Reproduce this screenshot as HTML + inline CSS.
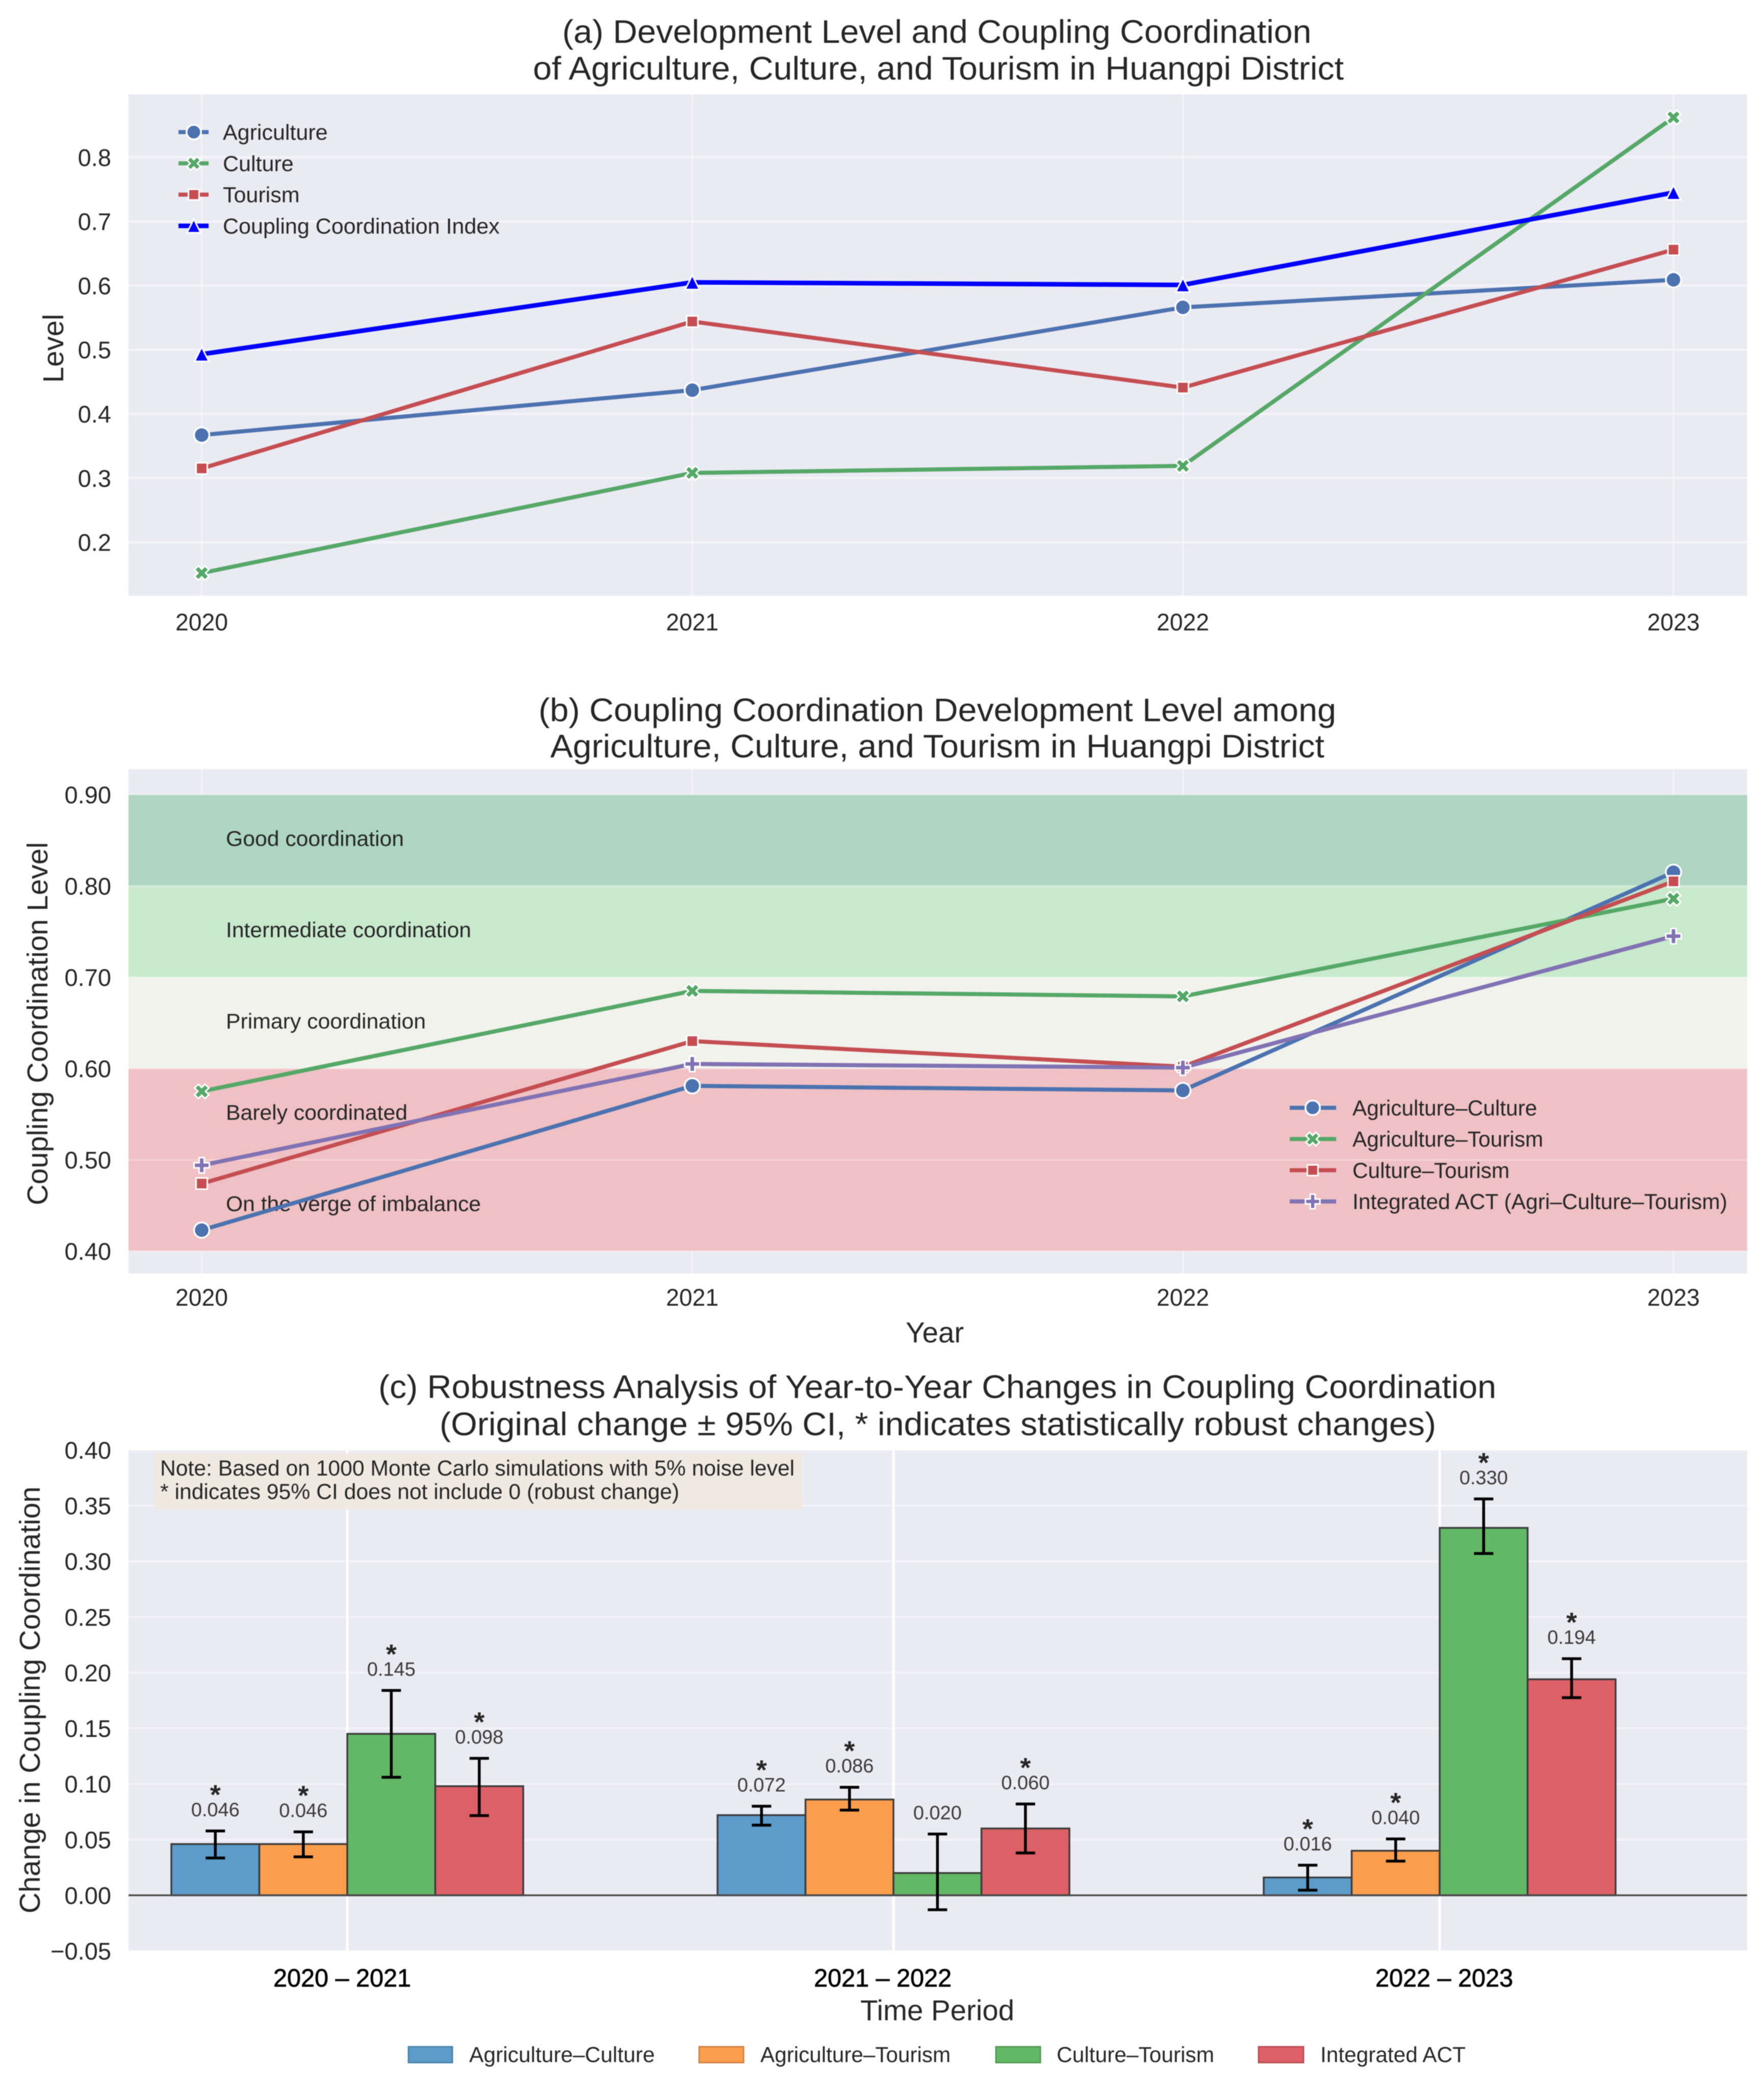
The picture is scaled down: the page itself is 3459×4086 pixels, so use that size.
<!DOCTYPE html>
<html lang="en">
<head>
<meta charset="utf-8">
<title>Coupling coordination of agriculture, culture and tourism in Huangpi District</title>
<style>
html,body{margin:0;padding:0;background:#fff}
svg{display:block;filter:blur(0.8px)}
text{font-family:"Liberation Sans",Arial,sans-serif;fill:#262626}
.title{font-size:64px;text-anchor:middle}
.axis-title{font-size:57px;text-anchor:middle}
.legend{font-size:43px}
.tick{font-size:47px}
</style>
</head>
<body>
<svg id="figure" xmlns="http://www.w3.org/2000/svg" width="3459" height="4086" viewBox="0 0 3459 4086">
  <rect x="0" y="0" width="3459" height="4086" fill="#ffffff"/>

  <g id="panel-a"></g>
  <g id="panel-b"></g>
  <g id="panel-c"></g>

  <g>
    <text class="title" x="1837" y="84" textLength="1469" lengthAdjust="spacingAndGlyphs">(a) Development Level and Coupling Coordination</text>
    <text class="title" x="1840" y="156" textLength="1590" lengthAdjust="spacingAndGlyphs">of Agriculture, Culture, and Tourism in Huangpi District</text>
  </g>
  <text class="axis-title" transform="translate(124,683) rotate(-90)" textLength="135" lengthAdjust="spacingAndGlyphs">Level</text>

  <g>
    <text class="title" x="1838" y="1414" textLength="1564" lengthAdjust="spacingAndGlyphs">(b) Coupling Coordination Development Level among</text>
    <text class="title" x="1838" y="1485" textLength="1518" lengthAdjust="spacingAndGlyphs">Agriculture, Culture, and Tourism in Huangpi District</text>
  </g>
  <text class="axis-title" transform="translate(93,2007) rotate(-90)" textLength="712" lengthAdjust="spacingAndGlyphs">Coupling Coordination Level</text>
  <text class="axis-title" x="1833" y="2632" textLength="114" lengthAdjust="spacingAndGlyphs">Year</text>

  <g>
    <text class="title" x="1838" y="2741" textLength="2192" lengthAdjust="spacingAndGlyphs">(c) Robustness Analysis of Year-to-Year Changes in Coupling Coordination</text>
    <text class="title" x="1839" y="2814" textLength="1954" lengthAdjust="spacingAndGlyphs">(Original change ± 95% CI, * indicates statistically robust changes)</text>
  </g>
  <text class="axis-title" transform="translate(78,3333) rotate(-90)" textLength="837" lengthAdjust="spacingAndGlyphs">Change in Coupling Coordination</text>
  <text class="axis-title" x="1838" y="3961" textLength="302" lengthAdjust="spacingAndGlyphs">Time Period</text>

  <g>
    <rect x="304" y="2849" width="1269" height="111" fill="#f0e8e0" opacity="0.92"/>
    <text x="314" y="2893" font-size="43" textLength="1244" lengthAdjust="spacingAndGlyphs">Note: Based on 1000 Monte Carlo simulations with 5% noise level</text>
    <text x="314" y="2939" font-size="43" textLength="1018" lengthAdjust="spacingAndGlyphs">* indicates 95% CI does not include 0 (robust change)</text>
  </g>

  <g>
    <g>
      <rect x="801" y="4013" width="86" height="31" fill="#5c9bca" stroke="#4d84ab" stroke-width="3"/>
      <text class="legend" x="920" y="4043" textLength="364" lengthAdjust="spacingAndGlyphs">Agriculture–Culture</text>
    </g>
    <g>
      <rect x="1371" y="4013" width="87" height="31" fill="#fa9e4e" stroke="#d08445" stroke-width="3"/>
      <text class="legend" x="1491" y="4043" textLength="373" lengthAdjust="spacingAndGlyphs">Agriculture–Tourism</text>
    </g>
    <g>
      <rect x="1953" y="4013" width="87" height="31" fill="#63b866" stroke="#539a56" stroke-width="3"/>
      <text class="legend" x="2072" y="4043" textLength="309" lengthAdjust="spacingAndGlyphs">Culture–Tourism</text>
    </g>
    <g>
      <rect x="2468" y="4013" width="88" height="31" fill="#dc6066" stroke="#b85055" stroke-width="3"/>
      <text class="legend" x="2589" y="4043" textLength="285" lengthAdjust="spacingAndGlyphs">Integrated ACT</text>
    </g>
  </g>
</svg>

<script>
/* ---------- panel (a) data ---------- */
const years = ['2020', '2021', '2022', '2023'];
const agricultureLevel = [0.367, 0.437, 0.566, 0.609];
const cultureLevel = [0.152, 0.308, 0.319, 0.862];
const tourismLevel = [0.315, 0.544, 0.441, 0.656];
const couplingIndex = [0.493, 0.605, 0.601, 0.745];
const panelATicks = [0.2, 0.3, 0.4, 0.5, 0.6, 0.7, 0.8];
const panelALegendLabels = ['Agriculture', 'Culture', 'Tourism', 'Coupling Coordination Index'];

/* ---------- panel (b) data ---------- */
const agricultureCulture = [0.423, 0.581, 0.576, 0.815];
const agricultureTourism = [0.575, 0.685, 0.679, 0.786];
const cultureTourism = [0.474, 0.630, 0.602, 0.805];
const integratedAct = [0.494, 0.605, 0.601, 0.745];
const panelBTicks = [0.40, 0.50, 0.60, 0.70, 0.80, 0.90];
const bandLow = [0.80, 0.70, 0.60, 0.40];
const bandHigh = [0.90, 0.80, 0.70, 0.60];
const levelNames = ['Good coordination', 'Intermediate coordination', 'Primary coordination', 'Barely coordinated', 'On the verge of imbalance'];
const levelMid = [0.85, 0.75, 0.65, 0.55, 0.45];
const panelBLegendLabels = ['Agriculture–Culture', 'Agriculture–Tourism', 'Culture–Tourism', 'Integrated ACT (Agri–Culture–Tourism)'];

/* ---------- panel (c) data ---------- */
const periods = ['2020 – 2021', '2021 – 2022', '2022 – 2023'];
const seriesNames = ['agriculture-culture', 'agriculture-tourism', 'culture-tourism', 'integrated-act'];
const changeAC = [0.046, 0.072, 0.016];
const changeAT = [0.046, 0.086, 0.040];
const changeCT = [0.145, 0.020, 0.330];
const changeInt = [0.098, 0.060, 0.194];
const ciLowAC = [0.0335, 0.063, 0.0046];
const ciHighAC = [0.0578, 0.080, 0.027];
const ciLowAT = [0.0345, 0.0765, 0.0307];
const ciHighAT = [0.057, 0.097, 0.0506];
const ciLowCT = [0.106, -0.013, 0.307];
const ciHighCT = [0.184, 0.055, 0.356];
const ciLowInt = [0.0716, 0.038, 0.1775];
const ciHighInt = [0.123, 0.082, 0.2125];
const panelCTicks = [-0.05, 0, 0.05, 0.10, 0.15, 0.20, 0.25, 0.30, 0.35, 0.40];

const NS = 'http://www.w3.org/2000/svg';
const PLOT_L = 252, PLOT_R = 3426;

function mk(parent, tag) {
  const n = document.createElementNS(NS, tag);
  parent.appendChild(n);
  return n;
}
function set(n, props) {
  for (const k in props) n.setAttribute(k, props[k]);
  return n;
}
/* axis functions */
const xYear = i => 395.5 + i * 962;
const yA = v => 308.3 + (0.8 - v) * 1258;
const yB = v => 2453 - (v - 0.4) * 1790;
const yC = v => 3716 - v * 2183;
const xGroup = i => 681 + i * 1071;
const BAR_W = 172.5;

function markerShape(parent, kind, color, cx, cy, scale) {
  const s = scale || 1;
  let m;
  if (kind === 'circle') {
    m = mk(parent, 'circle');
    set(m, {cx: cx, cy: cy, r: 15 * s, fill: color, stroke: '#fff', 'stroke-width': 3.5});
  } else if (kind === 'square') {
    m = mk(parent, 'rect');
    set(m, {x: cx - 11 * s, y: cy - 11 * s, width: 22 * s, height: 22 * s, fill: color, stroke: '#fff', 'stroke-width': 3});
  } else if (kind === 'triangle') {
    const r = 14 * s;
    m = mk(parent, 'polygon');
    set(m, {points: `${cx},${cy - r} ${cx + r},${cy + r} ${cx - r},${cy + r}`, fill: color, stroke: '#fff', 'stroke-width': 3});
  } else if (kind === 'x') {
    const a = 14 * s, b = 7.5 * s;
    m = mk(parent, 'polygon');
    const pts = [[-a, -a + b], [-a + b, -a], [0, -b], [a - b, -a], [a, -a + b], [b, 0], [a, a - b], [a - b, a], [0, b], [-a + b, a], [-a, a - b], [-b, 0]];
    set(m, {points: pts.map(p => (cx + p[0]) + ',' + (cy + p[1])).join(' '), fill: color, stroke: '#fff', 'stroke-width': 3});
  } else {
    const a = 15 * s, b = 5 * s;
    m = mk(parent, 'polygon');
    const pts = [[-b, -a], [b, -a], [b, -b], [a, -b], [a, b], [b, b], [b, a], [-b, a], [-b, b], [-a, b], [-a, -b], [-b, -b]];
    set(m, {points: pts.map(p => (cx + p[0]) + ',' + (cy + p[1])).join(' '), fill: color, stroke: '#fff', 'stroke-width': 3});
  }
  return m;
}

function drawSeries(parent, key, values, yFn, color, kind, width) {
  const line = mk(parent, 'polyline');
  
  
  set(line, {points: values.map((v, i) => xYear(i) + ',' + yFn(v)).join(' '), fill: 'none', stroke: color, 'stroke-width': width, 'stroke-linejoin': 'round'});
  values.forEach((v, i) => {
    const m = markerShape(parent, kind, color, xYear(i), yFn(v));
    
    
  });
}

function drawYearAxis(parent, top, bottom, baseline) {
  years.forEach((y, i) => {
    const g = mk(parent, 'line');
    
    
    set(g, {x1: xYear(i), x2: xYear(i), y1: top, y2: bottom, stroke: '#fff', 'stroke-width': 4, opacity: 0.45});
    const t = mk(parent, 'text');
    
    
    set(t, {x: xYear(i), y: baseline, 'text-anchor': 'middle', class: 'tick', textLength: 103, lengthAdjust: 'spacingAndGlyphs'});
    t.textContent = y;
  });
}

function drawYTicks(parent, ticks, yFn, digits, gridOpacity) {
  ticks.forEach(v => {
    const g = mk(parent, 'line');
    
    
    set(g, {x1: PLOT_L, x2: PLOT_R, y1: yFn(v), y2: yFn(v), stroke: '#fff', 'stroke-width': 4, opacity: gridOpacity});
    const t = mk(parent, 'text');
    
    
    set(t, {x: 218, y: yFn(v) + 17, 'text-anchor': 'end', class: 'tick'});
    const s = Math.abs(v).toFixed(digits);
    t.textContent = (v < 0 ? '−' : '') + s;
  });
}

/* ---------- panel (a) ---------- */
(function () {
  const p = document.getElementById('panel-a');
  const bg = mk(p, 'rect');
  
  
  set(bg, {x: PLOT_L, y: 185, width: PLOT_R - PLOT_L, height: 983, fill: '#eaeaf2'});
  drawYTicks(p, panelATicks, yA, 1, 0.5);
  drawYearAxis(p, 185, 1168, 1236);
  drawSeries(p, 'agriculture', agricultureLevel, yA, '#4c72b0', 'circle', 8);
  drawSeries(p, 'culture', cultureLevel, yA, '#55a868', 'x', 8);
  drawSeries(p, 'tourism', tourismLevel, yA, '#c44e52', 'square', 8);
  drawSeries(p, 'coupling-index', couplingIndex, yA, '#0000ff', 'triangle', 9);

  const colors = ['#4c72b0', '#55a868', '#c44e52', '#0000ff'];
  const kinds = ['circle', 'x', 'square', 'triangle'];
  panelALegendLabels.forEach((name, i) => {
    const ly = 259 + i * 61.3;
    const h = mk(p, 'line');
    
    
    set(h, {x1: 350, x2: 409, y1: ly, y2: ly, stroke: colors[i], 'stroke-width': i === 3 ? 9 : 8});
    const m = markerShape(p, kinds[i], colors[i], 380, ly, 0.95);
    
    
    const t = mk(p, 'text');
    
    
    set(t, {x: 437, y: ly + 15, class: 'legend'});
    t.textContent = name;
  });
})();

/* ---------- panel (b) ---------- */
(function () {
  const p = document.getElementById('panel-b');
  const bg = mk(p, 'rect');
  
  
  set(bg, {x: PLOT_L, y: 1508, width: PLOT_R - PLOT_L, height: 989, fill: '#eaeaf2'});
  drawYearAxis(p, 1508, 2497, 2560);
  const bandFill = ['#add5c2', '#c9e9cd', '#f1f2ec', '#efc1c4'];
  bandLow.forEach((lo, i) => {
    const r = mk(p, 'rect');
    
    
    set(r, {x: PLOT_L, width: PLOT_R - PLOT_L, y: yB(bandHigh[i]), height: yB(lo) - yB(bandHigh[i]), fill: bandFill[i]});
  });
  drawYTicks(p, panelBTicks, yB, 2, 0.25);
  const lengths = [349, 481, 392, 356, 500];
  levelNames.forEach((name, i) => {
    const t = mk(p, 'text');
    
    
    set(t, {x: 443, y: yB(levelMid[i]) + 11, 'font-size': 42, textLength: lengths[i], lengthAdjust: 'spacingAndGlyphs'});
    t.textContent = name;
  });
  drawSeries(p, 'agriculture-culture', agricultureCulture, yB, '#4c72b0', 'circle', 8);
  drawSeries(p, 'agriculture-tourism', agricultureTourism, yB, '#55a868', 'x', 8);
  drawSeries(p, 'culture-tourism', cultureTourism, yB, '#c44e52', 'square', 8);
  drawSeries(p, 'integrated-act', integratedAct, yB, '#8172b3', 'plus', 8);

  const colors = ['#4c72b0', '#55a868', '#c44e52', '#8172b3'];
  const kinds = ['circle', 'x', 'square', 'plus'];
  const textLen = [362, 374, 308, 735];
  panelBLegendLabels.forEach((name, i) => {
    const ly = 2172 + i * 61.2;
    const h = mk(p, 'line');
    
    
    set(h, {x1: 2529, x2: 2620, y1: ly, y2: ly, stroke: colors[i], 'stroke-width': 8});
    const m = markerShape(p, kinds[i], colors[i], 2574, ly, 0.95);
    
    
    const t = mk(p, 'text');
    
    
    set(t, {x: 2652, y: ly + 15, class: 'legend', textLength: textLen[i], lengthAdjust: 'spacingAndGlyphs'});
    t.textContent = name;
  });
})();

/* ---------- panel (c) ---------- */
(function () {
  const p = document.getElementById('panel-c');
  const bg = mk(p, 'rect');
  
  
  set(bg, {x: PLOT_L, y: 2843, width: PLOT_R - PLOT_L, height: 982, fill: '#eaeaf2'});
  drawYTicks(p, panelCTicks, yC, 2, 0.45);
  const labelX = [671, 1731, 2832];
  periods.forEach((name, i) => {
    const g = mk(p, 'line');
    
    
    set(g, {x1: xGroup(i), x2: xGroup(i), y1: 2843, y2: 3825, stroke: '#fff', 'stroke-width': 5});
    const t = mk(p, 'text');
    
    
    set(t, {x: labelX[i], y: 3895, 'text-anchor': 'middle', 'font-size': 49, textLength: 270, lengthAdjust: 'spacingAndGlyphs', stroke: '#000', 'stroke-width': 0.8});
    t.style.fill = '#000';
    t.textContent = name;
  });

  const values = [changeAC, changeAT, changeCT, changeInt];
  const lows = [ciLowAC, ciLowAT, ciLowCT, ciLowInt];
  const highs = [ciHighAC, ciHighAT, ciHighCT, ciHighInt];
  const fills = ['#5c9bca', '#fa9e4e', '#63b866', '#dc6066'];

  values.forEach((series, s) => {
    series.forEach((v, g) => {
      const r = mk(p, 'rect');
      
      
      const top = yC(Math.max(v, 0)), base = yC(Math.min(v, 0));
      set(r, {x: xGroup(g) + (s - 2) * BAR_W, y: top, width: BAR_W, height: base - top, fill: fills[s], stroke: '#3c3c3c', 'stroke-width': 3.5});
    });
  });

  const zero = mk(p, 'line');
  
  
  set(zero, {x1: PLOT_L, x2: PLOT_R, y1: yC(0), y2: yC(0), stroke: '#4a4a4a', 'stroke-width': 3.5});

  values.forEach((series, s) => {
    series.forEach((v, g) => {
      const cx = xGroup(g) + (s - 1.5) * BAR_W;
      const lo = lows[s][g], hi = highs[s][g];
      const e = mk(p, 'path');
      
      
      set(e, {d: `M${cx},${yC(lo)}V${yC(hi)}M${cx - 19},${yC(lo)}H${cx + 19}M${cx - 19},${yC(hi)}H${cx + 19}`, fill: 'none', stroke: '#000', 'stroke-width': 5.5});

      const label = mk(p, 'text');
      
      
      set(label, {x: cx, y: yC(hi) - 29, 'text-anchor': 'middle', 'font-size': 38});
      label.style.fill = '#3a3a3a';
      label.textContent = v.toFixed(3);

      if (lo > 0 || hi < 0) {
        const star = mk(p, 'text');
        
        
        set(star, {x: cx, y: yC(hi) - 53, 'text-anchor': 'middle', 'font-size': 54, 'font-weight': 'bold'});
        star.textContent = '*';
      }
    });
  });
})();
</script>
</body>
</html>
